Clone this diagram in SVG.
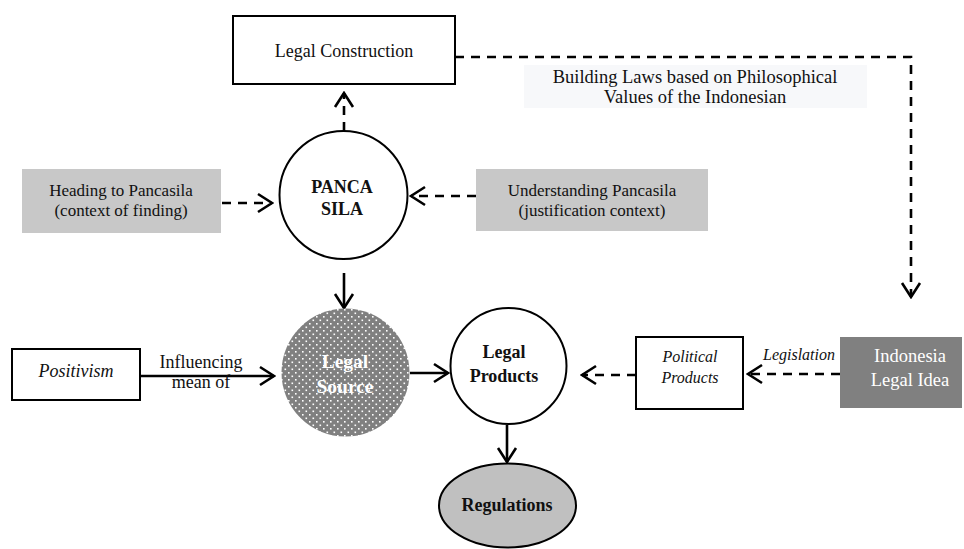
<svg xmlns="http://www.w3.org/2000/svg" width="964" height="549" viewBox="0 0 964 549">
<defs>
<style>
text{font-family:"Liberation Serif","Times New Roman",serif;fill:#111;text-anchor:middle}
.n{font-size:17.5px}
.b{font-size:18px;font-weight:bold}
.i{font-style:italic}
.w{fill:#fff}
.box{fill:#fff;stroke:#000;stroke-width:2}
.gray{fill:#c8c8c8}
.circ{fill:#fff;stroke:#000;stroke-width:2}
.c{fill:none;stroke:#000;stroke-width:2.6}
.d{stroke-dasharray:9 7}
</style>
<marker id="ah" viewBox="-16 -11 18 22" markerWidth="18" markerHeight="22" refX="0" refY="0" markerUnits="userSpaceOnUse" orient="auto">
<path d="M-14,-9 L0,0 L-14,9" fill="none" stroke="#000" stroke-width="2.6" stroke-dasharray="none"/>
</marker>
<pattern id="dots" width="7" height="7" patternUnits="userSpaceOnUse">
<rect width="7" height="7" fill="#808080"/>
<rect x="1" y="1" width="1.6" height="1.6" fill="#fff"/>
<rect x="4.5" y="4.5" width="1.6" height="1.6" fill="#fff"/>
</pattern>
</defs>
<rect width="964" height="549" fill="#fff"/>

<g id="connectors">
<path class="c d" d="M344,131 V93" marker-end="url(#ah)"/>
<path class="c d" d="M455,57 H911 V297" marker-end="url(#ah)"/>
<path class="c d" d="M222,203 H272" marker-end="url(#ah)"/>
<path class="c d" d="M476,196 H411" marker-end="url(#ah)"/>
<path class="c" d="M344,273 V308" marker-end="url(#ah)"/>
<path class="c" d="M140,376 H274" marker-end="url(#ah)"/>
<path class="c" d="M410,373 H448" marker-end="url(#ah)"/>
<path class="c d" d="M636,375 H582" marker-end="url(#ah)"/>
<path class="c d" d="M840,374 H748" marker-end="url(#ah)"/>
<path class="c" d="M507,425 V462" marker-end="url(#ah)"/>
</g>

<g id="building-label">
<rect x="524" y="65" width="343" height="43" fill="#f7f8fa"/>
<text class="n" x="695" y="83" style="font-size:18.5px">Building Laws based on Philosophical</text>
<text class="n" x="695" y="103" style="font-size:18.5px">Values of the Indonesian</text>
</g>

<g id="legal-construction">
<rect class="box" x="233" y="16" width="222" height="68"/>
<text class="n" x="344" y="57" style="font-size:18px">Legal Construction</text>
</g>

<g id="heading">
<rect class="gray" x="22" y="169" width="199" height="64"/>
<text class="n" x="121" y="196" style="font-size:17px">Heading to Pancasila</text>
<text class="n" x="121" y="216" style="font-size:17px">(context of finding)</text>
</g>

<g id="understanding">
<rect class="gray" x="476" y="169" width="232" height="62"/>
<text class="n" x="592" y="196" style="font-size:17px">Understanding Pancasila</text>
<text class="n" x="592" y="216" style="font-size:17px">(justification context)</text>
</g>

<g id="pancasila">
<circle class="circ" cx="343.5" cy="195" r="64"/>
<text class="b" x="342" y="193">PANCA</text>
<text class="b" x="342" y="215">SILA</text>
</g>

<g id="legal-source">
<circle cx="345.5" cy="372.5" r="64" fill="url(#dots)"/>
<text class="b w" x="345" y="368" style="font-size:19.5px">Legal</text>
<text class="b w" x="345" y="393" style="font-size:19.5px">Source</text>
</g>

<g id="positivism">
<rect class="box" x="12" y="349" width="128" height="51"/>
<text class="n i" x="76" y="377" style="font-size:18px">Positivism</text>
</g>

<g id="influencing-label">
<text class="n" x="201" y="368" style="font-size:18px">Influencing</text>
<text class="n" x="201" y="388" style="font-size:18px">mean of</text>
</g>

<g id="legal-products">
<circle class="circ" cx="508.5" cy="366" r="58"/>
<text class="b" x="504" y="358">Legal</text>
<text class="b" x="504" y="382">Products</text>
</g>

<g id="political-products">
<rect class="box" x="636" y="337" width="107" height="72"/>
<text class="n i" x="690" y="362" style="font-size:16px">Political</text>
<text class="n i" x="690" y="383" style="font-size:16px">Products</text>
</g>

<g id="legislation-label">
<text class="n i" x="799" y="360" style="font-size:16px">Legislation</text>
</g>

<g id="indonesia">
<rect x="840" y="337" width="122" height="71" fill="#808080"/>
<text class="n w" x="910" y="362" style="font-size:18.5px">Indonesia</text>
<text class="n w" x="910" y="386" style="font-size:18.5px">Legal Idea</text>
</g>

<g id="regulations">
<ellipse cx="507.5" cy="505.5" rx="68.5" ry="42" fill="#c0c0c0" stroke="#000" stroke-width="2"/>
<text class="b" x="507" y="511">Regulations</text>
</g>
</svg>
